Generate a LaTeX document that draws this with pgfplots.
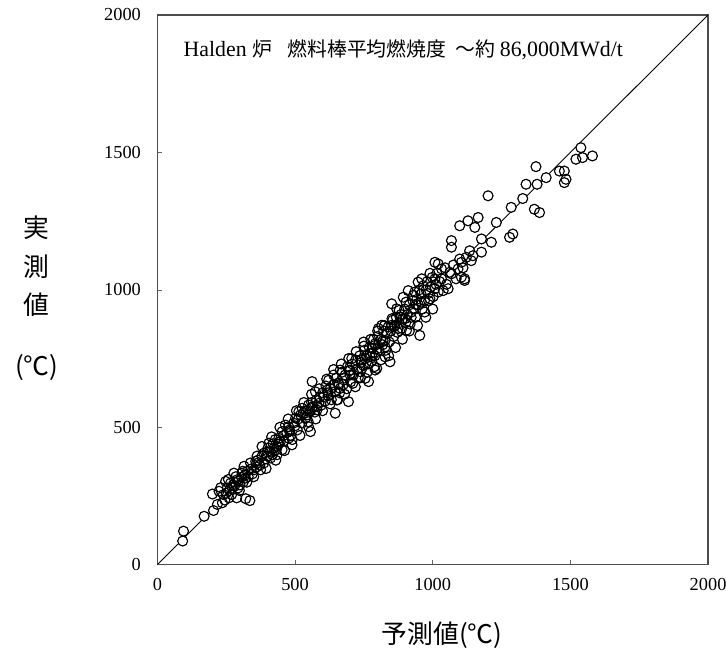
\documentclass[border=0pt]{standalone}
\usepackage{pgfplots}
\usepackage{pgfplotstable}
\pgfplotsset{compat=1.18}
\usepackage{fontspec}
\setmainfont{Liberation Serif}
\newfontfamily\cjk{Noto Sans CJK JP}

% predicted (x) vs measured (y) fuel centre temperature, deg C
\pgfplotstableread{
x y
92 86
95 122
170 176
204 197
218 219
200 257
224 267
240 255
236 225
260 243
248 303
254 279
266 297
272 279
278 333
288 243
290 309
293 279
308 333
315 358
321 240
327 340
336 233
351 345
357 376
387 370
387 406
405 442
411 412
411 388
423 424
435 430
435 400
441 460
447 448
453 418
453 484
465 508
477 460
477 502
489 436
502 533
514 557
526 569
538 533
549 502
549 581
556 484
562 666
574 629
580 563
586 587
604 611
616 635
622 671
640 690
646 551
652 599
664 641
664 708
676 678
694 593
700 690
706 750
719 647
737 702
749 810
755 750
767 666
773 768
791 708
791 798
827 792
845 738
755 678
743 714
773 756
797 714
827 756
791 804
803 859
827 816
851 871
851 949
875 859
881 901
893 973
905 853
923 919
935 992
947 1028
953 834
959 955
983 986
971 919
1008 1040
1020 992
1020 1094
1032 1040
1056 1004
1062 1064
1092 1076
1116 1034
1098 1112
1140 1106
1008 1100
911 997
869 931
815 871
1201 1342
1231 1245
1291 1203
1279 1191
1098 1233
1128 1251
1165 1263
1153 1227
1177 1185
1213 1173
1177 1137
1068 1179
1068 1155
1134 1142
1146 1124
1122 1118
1104 1100
1032 1076
1068 1058
1104 1046
1116 1040
1008 1004
990 967
1038 997
1375 1448
1339 1384
1379 1384
1412 1408
1327 1332
1285 1300
1369 1293
1388 1281
1460 1432
1478 1432
1484 1402
1478 1390
1538 1517
1520 1475
1544 1481
1580 1487
250 260
262 270
275 290
283 300
296 305
300 290
305 318
312 300
318 325
330 320
340 348
345 330
360 355
365 380
372 362
380 395
393 385
398 410
402 425
418 400
420 440
428 455
432 418
440 445
458 470
460 450
470 480
480 490
485 470
495 515
500 505
508 490
512 530
520 545
525 515
530 550
540 560
545 545
555 560
560 590
565 575
572 555
578 600
590 610
595 580
600 625
610 595
612 650
620 615
628 640
632 600
640 655
645 630
650 680
658 660
662 625
670 700
675 655
682 690
688 640
690 720
698 705
702 665
708 730
712 690
720 745
725 710
730 680
735 760
742 745
748 725
752 780
760 760
765 730
770 790
778 740
782 770
785 820
790 760
798 785
800 830
805 780
812 820
818 800
822 850
830 780
835 840
838 865
842 810
848 850
855 890
858 830
862 870
868 900
872 845
878 880
885 910
888 860
892 895
898 930
902 880
908 910
915 945
918 875
922 900
928 960
932 930
938 900
942 965
948 945
952 1000
958 985
962 930
966 1015
970 960
976 1000
980 1030
985 960
992 1010
998 1045
1002 975
1012 1020
1015 1060
1025 1030
1045 1080
1050 1020
1075 1090
1085 1040
1110 1080
380 430
395 350
415 465
430 380
445 500
462 415
475 530
490 455
505 560
518 470
532 590
548 520
560 620
575 530
588 640
600 560
615 675
628 585
640 710
655 600
668 730
680 620
695 750
710 660
722 775
738 680
750 795
762 700
775 820
788 720
800 850
812 745
825 870
840 760
852 895
865 790
878 925
890 820
903 955
915 850
930 980
945 870
960 1040
975 900
990 1060
1000 930
230 280
245 235
258 310
270 255
285 320
298 270
310 340
325 300
338 370
350 320
362 395
375 345
280 285
320 315
360 368
400 395
440 438
480 485
540 535
560 568
580 575
620 625
660 655
700 708
740 735
780 786
820 815
860 866
900 895
940 946
}\halden

\begin{document}
\begin{tikzpicture}
\useasboundingbox (0,0) rectangle (729bp,652bp);
\begin{axis}[
  at={(158bp,85bp)}, anchor=south west,
  scale only axis, width=553bp, height=552bp,
  xmin=0, xmax=2000, ymin=0, ymax=2000,
  xtick={0,500,...,2000}, ytick={0,500,...,2000},
  tick pos=left, tick align=inside,
  major tick length=5bp,
  axis line style={draw=black!70, line width=1.3bp},
  every tick/.style={draw=black!60, line width=0.6bp},
  /pgf/number format/assume math mode=true,
  /pgf/number format/set thousands separator={},
  ticklabel style={font=\fontsize{18.5}{22}\selectfont},
  xticklabel style={yshift=-10bp},
  yticklabel style={xshift=-13bp},
  xlabel={予測値(℃)},
  xlabel style={font=\cjk\fontsize{26}{30}\selectfont, at={(axis description cs:0.517,-0.128)}, anchor=center},
  ylabel={実\\測\\値\\[22bp](℃)},
  ylabel style={rotate=-90, align=center, font=\cjk\fontsize{26}{39}\selectfont, at={(axis description cs:-0.219,0.485)}, anchor=center},
  clip=true,
]
% one-to-one line
\addplot[black, line width=0.9bp] coordinates {(0,0) (2000,2000)};
% white discs under the rings hide the line
\addplot[only marks, mark=*, mark size=5bp, mark options={draw=none, fill=white}] table[x=x, y=y] {\halden};
% ring outlines
\addplot[only marks, mark=o, mark size=5bp, mark options={draw=black, line width=1.1bp}] table[x=x, y=y] {\halden};
\node[anchor=west] at (axis cs:83,1873) {\fontsize{22}{26}\selectfont Halden\hspace{6bp}{\cjk\fontsize{20}{24}\selectfont 炉}\hspace{15bp}{\cjk\fontsize{20}{24}\selectfont 燃料棒平均燃焼度}\hspace{9bp}{\cjk\fontsize{20}{24}\selectfont ～約}\hspace{5bp}86,000MWd/t};
\end{axis}
\end{tikzpicture}
\end{document}
